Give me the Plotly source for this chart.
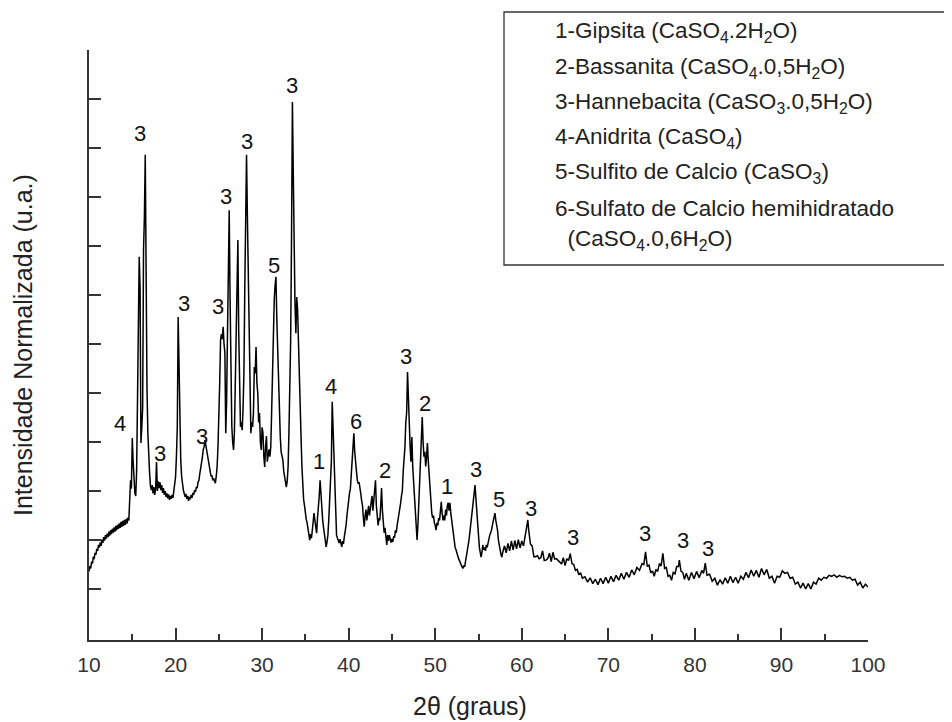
import plotly.graph_objects as go

# ---------------- data ----------------
two_theta = [
    10.0, 10.1, 10.2, 10.3, 10.4, 10.5, 10.6, 10.7, 10.8, 10.9,
    11.0, 11.1, 11.2, 11.3, 11.4, 11.5, 11.6, 11.7, 11.8, 11.9,
    12.0, 12.1, 12.2, 12.3, 12.4, 12.5, 12.6, 12.7, 12.8, 12.9,
    13.0, 13.1, 13.2, 13.3, 13.4, 13.5, 13.6, 13.7, 13.8, 13.9,
    14.0, 14.1, 14.2, 14.3, 14.4, 14.5, 14.6, 14.7, 14.8, 14.9,
    15.0, 15.1, 15.2, 15.3, 15.4, 15.5, 15.6, 15.7, 15.8, 15.9,
    16.0, 16.1, 16.2, 16.3, 16.4, 16.5, 16.6, 16.7, 16.8, 16.9,
    17.0, 17.1, 17.2, 17.3, 17.4, 17.5, 17.6, 17.7, 17.8, 17.9,
    18.0, 18.1, 18.2, 18.3, 18.4, 18.5, 18.6, 18.7, 18.8, 18.9,
    19.0, 19.1, 19.2, 19.3, 19.4, 19.5, 19.6, 19.7, 19.8, 19.9,
    20.0, 20.1, 20.2, 20.3, 20.4, 20.5, 20.6, 20.7, 20.8, 20.9,
    21.0, 21.1, 21.2, 21.3, 21.4, 21.5, 21.6, 21.7, 21.8, 21.9,
    22.0, 22.1, 22.2, 22.3, 22.4, 22.5, 22.6, 22.7, 22.8, 22.9,
    23.0, 23.1, 23.2, 23.3, 23.4, 23.5, 23.6, 23.7, 23.8, 23.9,
    24.0, 24.1, 24.2, 24.3, 24.4, 24.5, 24.6, 24.7, 24.8, 24.9,
    25.0, 25.1, 25.2, 25.3, 25.4, 25.5, 25.6, 25.7, 25.8, 25.9,
    26.0, 26.1, 26.2, 26.3, 26.4, 26.5, 26.6, 26.7, 26.8, 26.9,
    27.0, 27.1, 27.2, 27.3, 27.4, 27.5, 27.6, 27.7, 27.8, 27.9,
    28.0, 28.1, 28.2, 28.3, 28.4, 28.5, 28.6, 28.7, 28.8, 28.9,
    29.0, 29.1, 29.2, 29.3, 29.4, 29.5, 29.6, 29.7, 29.8, 29.9,
    30.0, 30.1, 30.2, 30.3, 30.4, 30.5, 30.6, 30.7, 30.8, 30.9,
    31.0, 31.1, 31.2, 31.3, 31.4, 31.5, 31.6, 31.7, 31.8, 31.9,
    32.0, 32.1, 32.2, 32.3, 32.4, 32.5, 32.6, 32.7, 32.8, 32.9,
    33.0, 33.1, 33.2, 33.3, 33.4, 33.5, 33.6, 33.7, 33.8, 33.9,
    34.0, 34.1, 34.2, 34.3, 34.4, 34.5, 34.6, 34.7, 34.8, 34.9,
    35.0, 35.1, 35.2, 35.3, 35.4, 35.5, 35.6, 35.7, 35.8, 35.9,
    36.0, 36.1, 36.2, 36.3, 36.4, 36.5, 36.6, 36.7, 36.8, 36.9,
    37.0, 37.1, 37.2, 37.3, 37.4, 37.5, 37.6, 37.7, 37.8, 37.9,
    38.0, 38.1, 38.2, 38.3, 38.4, 38.5, 38.6, 38.7, 38.8, 38.9,
    39.0, 39.1, 39.2, 39.3, 39.4, 39.5, 39.6, 39.7, 39.8, 39.9,
    40.0, 40.1, 40.2, 40.3, 40.4, 40.5, 40.6, 40.7, 40.8, 40.9,
    41.0, 41.1, 41.2, 41.3, 41.4, 41.5, 41.6, 41.7, 41.8, 41.9,
    42.0, 42.1, 42.2, 42.3, 42.4, 42.5, 42.6, 42.7, 42.8, 42.9,
    43.0, 43.1, 43.2, 43.3, 43.4, 43.5, 43.6, 43.7, 43.8, 43.9,
    44.0, 44.1, 44.2, 44.3, 44.4, 44.5, 44.6, 44.7, 44.8, 44.9,
    45.0, 45.1, 45.2, 45.3, 45.4, 45.5, 45.6, 45.7, 45.8, 45.9,
    46.0, 46.1, 46.2, 46.3, 46.4, 46.5, 46.6, 46.7, 46.8, 46.9,
    47.0, 47.1, 47.2, 47.3, 47.4, 47.5, 47.6, 47.7, 47.8, 47.9,
    48.0, 48.1, 48.2, 48.3, 48.4, 48.5, 48.6, 48.7, 48.8, 48.9,
    49.0, 49.1, 49.2, 49.3, 49.4, 49.5, 49.6, 49.7, 49.8, 49.9,
    50.0, 50.1, 50.2, 50.3, 50.4, 50.5, 50.6, 50.7, 50.8, 50.9,
    51.0, 51.1, 51.2, 51.3, 51.4, 51.5, 51.6, 51.7, 51.8, 51.9,
    52.0, 52.1, 52.2, 52.3, 52.4, 52.5, 52.6, 52.7, 52.8, 52.9,
    53.0, 53.1, 53.2, 53.3, 53.4, 53.5, 53.6, 53.7, 53.8, 53.9,
    54.0, 54.1, 54.2, 54.3, 54.4, 54.5, 54.6, 54.7, 54.8, 54.9,
    55.0, 55.1, 55.2, 55.3, 55.4, 55.5, 55.6, 55.7, 55.8, 55.9,
    56.0, 56.1, 56.2, 56.3, 56.4, 56.5, 56.6, 56.7, 56.8, 56.9,
    57.0, 57.1, 57.2, 57.3, 57.4, 57.5, 57.6, 57.7, 57.8, 57.9,
    58.0, 58.2, 58.4, 58.6, 58.8, 59.0, 59.2, 59.4, 59.6, 59.8,
    60.0, 60.2, 60.4, 60.6, 60.7, 60.8, 60.9, 61.0, 61.2, 61.4,
    61.6, 61.8, 62.0, 62.2, 62.4, 62.6, 62.8, 63.0, 63.2, 63.4,
    63.6, 63.8, 64.0, 64.2, 64.4, 64.6, 64.8, 65.0, 65.2, 65.4,
    65.6, 65.8, 66.0, 66.2, 66.4, 66.6, 66.8, 67.0, 67.3, 67.6,
    67.9, 68.2, 68.5, 68.8, 69.1, 69.4, 69.7, 70.0, 70.3, 70.6,
    70.9, 71.2, 71.5, 71.8, 72.1, 72.4, 72.7, 73.0, 73.3, 73.6,
    73.9, 74.1, 74.3, 74.5, 74.7, 74.9, 75.1, 75.3, 75.5, 75.7,
    75.9, 76.1, 76.3, 76.5, 76.7, 76.9, 77.1, 77.3, 77.5, 77.7,
    77.9, 78.1, 78.2, 78.4, 78.6, 78.8, 79.0, 79.3, 79.6, 79.9,
    80.2, 80.5, 80.8, 81.0, 81.2, 81.4, 81.7, 82.0, 82.3, 82.6,
    82.9, 83.2, 83.5, 83.8, 84.1, 84.4, 84.7, 85.0, 85.3, 85.6,
    85.9, 86.2, 86.5, 86.8, 87.1, 87.4, 87.7, 88.0, 88.3, 88.6,
    88.9, 89.2, 89.5, 89.8, 90.1, 90.4, 90.7, 91.0, 91.3, 91.6,
    91.9, 92.2, 92.5, 92.8, 93.1, 93.4, 93.7, 94.0, 94.3, 94.6,
    94.9, 95.2, 95.5, 95.8, 96.1, 96.4, 96.7, 97.0, 97.3, 97.6,
    97.9, 98.2, 98.5, 98.8, 99.1, 99.4, 99.7, 100.0,
]

intensity = [
    1.36, 1.47, 1.42, 1.56, 1.52, 1.66, 1.61, 1.74, 1.70, 1.82,
    1.78, 1.90, 1.85, 1.95, 1.88, 2.01, 1.94, 2.06, 1.99, 2.10,
    2.03, 2.13, 2.06, 2.17, 2.09, 2.20, 2.12, 2.23, 2.15, 2.26,
    2.17, 2.29, 2.20, 2.31, 2.23, 2.34, 2.25, 2.37, 2.27, 2.39,
    2.29, 2.41, 2.31, 2.43, 2.34, 2.46, 2.40, 2.75, 3.22, 3.05,
    4.08, 3.60, 3.10, 2.96, 2.90, 3.40, 4.80, 6.30, 7.78, 7.16,
    3.98, 4.30, 4.71, 7.92, 8.60, 9.86, 7.16, 5.10, 4.18, 3.60,
    3.37, 3.10, 3.02, 3.12, 2.95, 3.08, 2.92, 3.05, 3.59, 3.00,
    3.20, 3.06, 3.18, 3.02, 3.12, 2.96, 3.06, 2.92, 3.00, 2.88,
    2.95, 2.85, 2.93, 2.82, 2.90, 2.84, 2.92, 2.86, 3.00, 3.10,
    3.29, 3.70, 4.30, 6.55, 5.67, 4.20, 3.63, 3.30, 3.10, 3.02,
    2.95, 2.88, 2.94, 2.84, 2.90, 2.80, 2.88, 2.83, 2.92, 2.86,
    2.96, 2.92, 3.02, 2.98, 3.08, 3.06, 3.18, 3.22, 3.35, 3.45,
    3.62, 3.69, 3.85, 3.90, 4.04, 3.92, 3.86, 3.78, 3.60, 3.45,
    3.37, 3.30, 3.32, 3.22, 3.26, 3.18, 3.16, 3.30, 3.49, 3.90,
    4.45, 5.20, 6.08, 6.20, 6.10, 6.35, 6.00, 5.82, 4.18, 4.86,
    6.20, 7.90, 8.73, 6.90, 5.20, 4.31, 4.00, 3.84, 4.20, 5.20,
    6.60, 7.50, 8.12, 6.22, 5.00, 4.31, 4.40, 4.24, 4.70, 5.41,
    7.16, 8.60, 9.86, 8.59, 7.20, 5.82, 4.80, 4.18, 4.40, 4.31,
    4.60, 5.53, 5.40, 5.94, 5.20, 5.00, 4.40, 4.59, 4.00, 3.84,
    4.30, 4.18, 3.70, 3.49, 3.90, 4.12, 3.60, 3.69, 3.85, 3.70,
    3.90, 4.60, 5.41, 6.40, 6.90, 7.20, 7.37, 6.50, 5.82, 5.20,
    4.45, 4.10, 3.80, 3.70, 3.63, 3.40, 3.25, 3.15, 3.08, 3.20,
    3.49, 4.20, 5.10, 6.08, 8.20, 10.94, 9.50, 7.65, 6.80, 6.22,
    6.96, 6.70, 5.90, 5.40, 4.86, 4.10, 3.49, 3.10, 2.82, 2.70,
    2.50, 2.42, 2.35, 2.22, 2.15, 2.00, 2.12, 2.04, 2.20, 2.35,
    2.55, 2.40, 2.30, 2.14, 2.45, 2.82, 2.90, 3.22, 2.85, 2.60,
    2.40, 2.25, 2.10, 1.95, 1.86, 1.96, 2.10, 2.41, 2.90, 3.40,
    3.60, 4.82, 4.20, 3.49, 2.80, 2.35, 2.10, 2.04, 2.00, 1.94,
    2.02, 1.90, 1.86, 1.98, 1.92, 2.07, 2.15, 2.30, 2.50, 2.70,
    2.85, 2.96, 3.05, 3.30, 3.60, 3.95, 4.18, 3.80, 3.50, 3.40,
    3.22, 3.15, 3.18, 3.00, 2.95, 2.80, 2.70, 2.45, 2.27, 2.50,
    2.62, 2.40, 2.55, 2.70, 2.50, 2.68, 2.75, 2.90, 2.60, 2.85,
    3.00, 3.22, 2.70, 2.50, 2.30, 2.45, 2.40, 2.70, 3.06, 2.60,
    2.30, 2.15, 2.25, 2.00, 1.90, 2.10, 1.98, 2.10, 2.00, 1.95,
    2.02, 1.96, 2.08, 2.05, 2.20, 2.15, 2.30, 2.40, 2.50, 2.61,
    2.75, 2.90, 3.00, 3.40, 3.60, 3.90, 4.40, 4.60, 5.43, 4.80,
    4.40, 3.90, 3.60, 4.10, 3.50, 3.20, 2.90, 2.60, 2.30, 2.00,
    2.30, 2.80, 3.40, 3.90, 4.30, 4.51, 4.00, 3.70, 3.80, 3.50,
    3.70, 3.98, 3.60, 3.30, 2.90, 2.70, 2.55, 2.45, 2.50, 2.35,
    2.30, 2.20, 2.35, 2.30, 2.45, 2.40, 2.65, 2.78, 2.55, 2.40,
    2.50, 2.40, 2.62, 2.50, 2.70, 2.76, 2.60, 2.76, 2.55, 2.40,
    2.20, 2.05, 1.94, 1.85, 1.80, 1.72, 1.70, 1.62, 1.58, 1.52,
    1.50, 1.45, 1.42, 1.48, 1.45, 1.55, 1.62, 1.75, 1.90, 2.00,
    2.15, 2.30, 2.45, 2.60, 2.80, 2.95, 3.12, 2.85, 2.60, 2.30,
    2.00, 1.85, 1.75, 1.65, 1.75, 1.90, 1.80, 1.85, 1.78, 1.90,
    1.85, 1.95, 2.00, 2.10, 2.15, 2.20, 2.30, 2.40, 2.45, 2.55,
    2.40, 2.30, 2.20, 2.00, 1.85, 1.80, 1.70, 1.65, 1.75, 1.80,
    1.88, 1.74, 1.93, 1.78, 1.98, 1.80, 1.99, 1.82, 2.01, 1.84,
    1.98, 1.88, 2.10, 2.30, 2.41, 2.20, 2.00, 1.92, 1.88, 1.66,
    1.66, 1.68, 1.62, 1.64, 1.78, 1.58, 1.59, 1.62, 1.73, 1.56,
    1.75, 1.61, 1.62, 1.58, 1.54, 1.51, 1.64, 1.48, 1.62, 1.58,
    1.72, 1.52, 1.50, 1.38, 1.40, 1.29, 1.33, 1.22, 1.25, 1.14,
    1.23, 1.11, 1.20, 1.09, 1.22, 1.11, 1.24, 1.12, 1.26, 1.15,
    1.28, 1.18, 1.32, 1.20, 1.34, 1.24, 1.39, 1.29, 1.44, 1.38,
    1.52, 1.50, 1.76, 1.46, 1.49, 1.33, 1.37, 1.26, 1.40, 1.36,
    1.52, 1.47, 1.73, 1.42, 1.44, 1.26, 1.28, 1.18, 1.34, 1.31,
    1.46, 1.46, 1.59, 1.36, 1.34, 1.20, 1.32, 1.18, 1.34, 1.21,
    1.36, 1.23, 1.38, 1.32, 1.53, 1.28, 1.30, 1.16, 1.22, 1.08,
    1.19, 1.10, 1.23, 1.12, 1.26, 1.13, 1.24, 1.12, 1.26, 1.20,
    1.34, 1.23, 1.39, 1.26, 1.38, 1.24, 1.42, 1.29, 1.40, 1.22,
    1.26, 1.12, 1.26, 1.24, 1.37, 1.32, 1.34, 1.22, 1.24, 1.10,
    1.14, 1.02, 1.12, 1.00, 1.11, 1.00, 1.14, 1.10, 1.22, 1.18,
    1.24, 1.22, 1.28, 1.26, 1.29, 1.24, 1.28, 1.25, 1.26, 1.22,
    1.24, 1.18, 1.20, 1.08, 1.14, 1.02, 1.10, 1.04,
]

# phase labels above the peaks
label_text = ["4", "3", "3", "3", "3", "3", "3", "3", "5", "3", "1", "4", "6",
              "2", "3", "2", "1", "3", "5", "3", "3", "3", "3", "3"]
label_2theta = [13.6, 15.9, 18.2, 21.0, 23.0, 24.9, 25.8, 28.3, 31.4, 33.5, 36.6, 38.0, 40.8,
                44.2, 46.6, 48.8, 51.4, 54.7, 57.4, 61.1, 65.9, 74.2, 78.6, 81.5]
label_int = [4.38, 10.30, 3.77, 6.83, 4.11, 6.76, 9.01, 10.13, 7.61, 11.27, 3.60, 5.13, 4.41,
             3.41, 5.74, 4.79, 3.09, 3.43, 2.83, 2.65, 2.05, 2.14, 2.00, 1.83]

legend_lines = [
    "1-Gipsita (CaSO<sub>4</sub>.2H<sub>2</sub>O)",
    "2-Bassanita (CaSO<sub>4</sub>.0,5H<sub>2</sub>O)",
    "3-Hannebacita (CaSO<sub>3</sub>.0,5H<sub>2</sub>O)",
    "4-Anidrita (CaSO<sub>4</sub>)",
    "5-Sulfito de Calcio (CaSO<sub>3</sub>)",
    "6-Sulfato de Calcio hemihidratado",
    "  (CaSO<sub>4</sub>.0,6H<sub>2</sub>O)",
]

x_ticks = [10, 20, 30, 40, 50, 60, 70, 80, 90, 100]
y_ticks = [1, 2, 3, 4, 5, 6, 7, 8, 9, 10, 11, 12]

# ---------------- figure ----------------
FONT = "Liberation Sans, Arial, sans-serif"
AX = "#333333"

# page has an 8px body margin: the figure starts at (8, 8)
OFF = 8
FIG_W, FIG_H = 952 - OFF, 722 - OFF
L, R, T, B = 89, 868, 50, 640          # plot area in page pixels


def px(xp):
    return (xp - L) / (R - L)


def py(yp):
    return (B - yp) / (B - T)


fig = go.Figure()
fig.add_trace(go.Scatter(x=two_theta, y=intensity, mode="lines",
                         line=dict(color="black", width=1.5), showlegend=False,
                         hoverinfo="skip"))

annotations = []
for t, xv, yv in zip(label_text, label_2theta, label_int):
    annotations.append(dict(x=xv, y=yv, xref="x", yref="y", text=t, showarrow=False,
                            xanchor="center", yanchor="middle",
                            font=dict(family=FONT, size=22, color="#111111")))

legend_y = [32, 68, 103, 138, 173, 209, 240]
for i, line in enumerate(legend_lines):
    annotations.append(dict(x=px(553), y=py(legend_y[i]), xref="paper", yref="paper",
                            text=line, showarrow=False, xanchor="left", yanchor="middle",
                            font=dict(family=FONT, size=22.5, color="#222222")))

annotations.append(dict(x=px(470), y=py(706), xref="paper", yref="paper",
                        text="2θ (graus)", showarrow=False, xanchor="center",
                        yanchor="middle", font=dict(family=FONT, size=25, color="#222222")))
annotations.append(dict(x=px(23), y=py(345), xref="paper", yref="paper",
                        text="Intensidade Normalizada (u.a.)", showarrow=False,
                        textangle=-90, xanchor="center", yanchor="middle",
                        font=dict(family=FONT, size=25, color="#222222")))

fig.update_layout(
    width=FIG_W, height=FIG_H,
    margin=dict(l=L - OFF, r=FIG_W - (R - OFF), t=T - OFF, b=FIG_H - (B - OFF),
                autoexpand=False),
    paper_bgcolor="white", plot_bgcolor="white",
    showlegend=False,
    annotations=annotations,
    shapes=[dict(type="rect", xref="paper", yref="paper",
                 x0=px(504), x1=px(947), y0=py(265), y1=py(12),
                 line=dict(color=AX, width=1.3), fillcolor="rgba(0,0,0,0)")],
    xaxis=dict(range=[10, 100], tickvals=x_ticks, ticks="inside", ticklen=12,
               tickwidth=1.5, tickcolor=AX, showline=True, linecolor=AX, linewidth=1.5,
               showgrid=False, zeroline=False, ticklabelstandoff=5,
               tickfont=dict(family=FONT, size=21, color="#333333"),
               minor=dict(ticks="inside", dtick=5, ticklen=6, tickwidth=1.5,
                          tickcolor=AX, showgrid=False)),
    yaxis=dict(range=[-0.04, 12], tickvals=y_ticks, showticklabels=False,
               ticks="inside", ticklen=12, tickwidth=1.5, tickcolor=AX,
               showline=True, linecolor=AX, linewidth=1.5, showgrid=False,
               zeroline=False),
)

fig.write_html("out.html")
